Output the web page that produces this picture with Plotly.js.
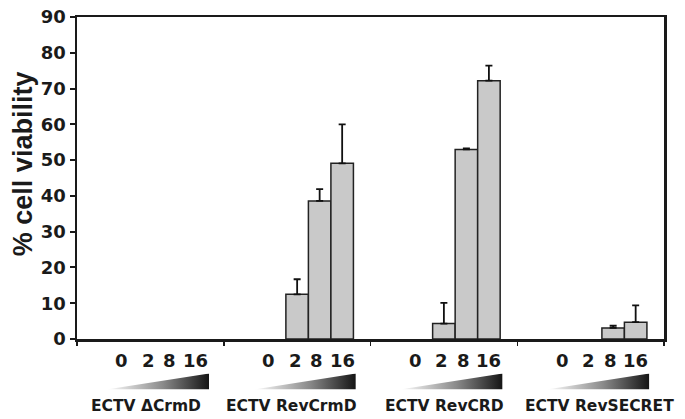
<!DOCTYPE html>
<html>
<head>
<meta charset="utf-8">
<script src="https://cdn.plot.ly/plotly-3.0.1.min.js"></script>
<style>
  html, body { margin: 0; padding: 0; background: #fff; }
  #chart { width: 685px; height: 419px; }
</style>
</head>
<body>
<div id="chart"></div>
<script>
// Virus strains (one group of bars each)
const strains = ['ECTV \u0394CrmD', 'ECTV RevCrmD', 'ECTV RevCRD', 'ECTV RevSECRET'];
// Dose levels within each group
const doses = ['0', '2', '8', '16'];

// % cell viability, one array per dose (values across strains)
const viabilityDose0  = [0, 0, 0, 0];
const viabilityDose2  = [0, 12.5, 4.3, 0];
const viabilityDose8  = [0, 38.6, 53.0, 3.1];
const viabilityDose16 = [0, 49.1, 72.2, 4.7];

// Upper error (SD) per dose
const errorDose0  = [0, 0, 0, 0];
const errorDose2  = [0, 4.2, 5.8, 0];
const errorDose8  = [0, 3.3, 0.3, 0.6];
const errorDose16 = [0, 10.9, 4.2, 4.7];

const yTicks = [0, 10, 20, 30, 40, 50, 60, 70, 80, 90];

const values = [viabilityDose0, viabilityDose2, viabilityDose8, viabilityDose16];
const errors = [errorDose0, errorDose2, errorDose8, errorDose16];

// Bar geometry inside each category slot
const BAR_W = 0.1534;
const FIRST_OFFSET = -0.23;
const doseLabelShift = [-6, -2, -3, 0];
const groupLabelShift = [-4, -6, 1, 9];

const ink = '#1a1a1a';
const boldFont = (size, family) => ({ family: family || 'DejaVu Sans', size: size, color: ink, weight: 'bold' });

const traces = doses.map((d, i) => ({
  type: 'bar',
  name: d,
  x: strains,
  y: values[i],
  width: BAR_W,
  offset: FIRST_OFFSET + BAR_W * i,
  marker: {
    color: '#c9c9c9',
    // no outline on empty (zero-height) bars
    line: { color: '#222', width: values[i].map(v => (v > 0 ? 1.5 : 0)) }
  },
  error_y: {
    type: 'data',
    // empty bars carry no error bar at all
    array: errors[i].map((e, k) => (values[i][k] > 0 ? e : NaN)),
    arrayminus: values[i].map(v => (v > 0 ? 0 : NaN)),
    symmetric: false,
    color: '#111',
    thickness: 1.8,
    width: 3.5
  },
  hoverinfo: 'skip'
}));

// Dose labels under each bar, gradient wedges and strain names
const annotations = [];
const images = [];
const wedgeSvg = "<svg xmlns='http://www.w3.org/2000/svg' width='200' height='30' viewBox='0 0 200 30' preserveAspectRatio='none'>" +
  "<defs><linearGradient id='g' x1='0' x2='1' y1='0' y2='0'>" +
  "<stop offset='0' stop-color='#ffffff'/><stop offset='0.55' stop-color='#8a8a8a'/><stop offset='1' stop-color='#141414'/>" +
  "</linearGradient></defs><polygon points='0,30 200,0 200,30' fill='url(#g)'/></svg>";
const wedgeSrc = 'data:image/svg+xml;charset=utf-8,' + encodeURIComponent(wedgeSvg);

strains.forEach((s, g) => {
  doses.forEach((d, i) => {
    annotations.push({
      xref: 'x', yref: 'paper',
      x: g + FIRST_OFFSET + BAR_W * i + BAR_W / 2, y: 0,
      yshift: -21, xshift: doseLabelShift[i],
      text: d, showarrow: false,
      xanchor: 'center', yanchor: 'middle',
      font: boldFont(18)
    });
  });
  annotations.push({
    xref: 'x', yref: 'paper',
    x: g, y: 0, yshift: -67, xshift: groupLabelShift[g],
    text: s, showarrow: false,
    xanchor: 'center', yanchor: 'middle',
    font: boldFont(15.5)
  });
  images.push({
    source: wedgeSrc,
    xref: 'x', yref: 'paper',
    x: g - 0.3, y: -0.107,
    sizex: 0.7, sizey: 0.05,
    xanchor: 'left', yanchor: 'top',
    sizing: 'stretch', layer: 'above'
  });
});

// Y-axis title
annotations.push({
  xref: 'paper', yref: 'paper',
  x: -0.092, y: 0.546,
  text: '% cell viability', showarrow: false,
  textangle: -90, xanchor: 'center', yanchor: 'middle',
  font: boldFont(27, 'Liberation Sans, Arial, sans-serif')
});

const layout = {
  width: 685, height: 419,
  margin: { l: 77, r: 21, t: 17, b: 80, pad: 0 },
  paper_bgcolor: '#fff', plot_bgcolor: '#fff',
  barmode: 'overlay',
  showlegend: false,
  xaxis: {
    type: 'category',
    range: [-0.5, 3.5],
    tickson: 'boundaries',
    ticks: 'outside', ticklen: 4, tickwidth: 1.5, tickcolor: ink,
    showticklabels: false,
    showgrid: false, zeroline: false,
    showline: true, linecolor: ink, linewidth: 2.5, mirror: true,
    fixedrange: true
  },
  yaxis: {
    range: [0, 90],
    tickvals: yTicks,
    ticks: 'outside', ticklen: 5, tickwidth: 2, tickcolor: ink,
    tickfont: boldFont(18),
    showgrid: false, zeroline: false,
    showline: true, linecolor: ink, linewidth: 2.5, mirror: true,
    fixedrange: true
  },
  annotations: annotations,
  images: images
};

Plotly.newPlot('chart', traces, layout, { staticPlot: true, displayModeBar: false });
</script>
</body>
</html>
